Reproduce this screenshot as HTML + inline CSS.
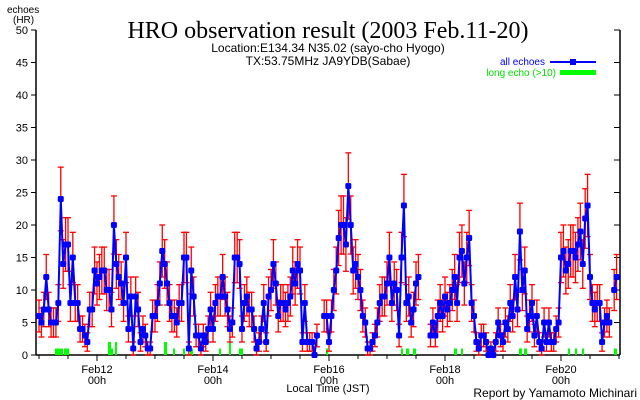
<!DOCTYPE html>
<html><head><meta charset="utf-8"><style>
body{margin:0;background:#fff;}
svg{display:block;font-family:"Liberation Sans",sans-serif;}
</style></head><body>
<svg id="s" width="640" height="400" xmlns="http://www.w3.org/2000/svg">
<rect width="640" height="400" fill="#fff"/>
<text x="328" y="38" font-family="Liberation Serif,serif" font-size="24" text-anchor="middle">HRO observation result (2003 Feb.11-20)</text>
<text x="328" y="52" font-size="12" text-anchor="middle">Location:E134.34 N35.02 (sayo-cho Hyogo)</text>
<text x="328" y="65" font-size="12" text-anchor="middle">TX:53.75MHz JA9YDB(Sabae)</text>
<text x="7" y="13" font-size="10">echoes</text>
<text x="13" y="23" font-size="10">(HR)</text>
<text x="545" y="65" font-size="10" fill="#00f" text-anchor="end">all echoes</text>
<line x1="550" y1="62" x2="596" y2="62" stroke="#00f" stroke-width="2"/>
<rect x="570" y="59" width="6" height="6" fill="#00f"/>
<text x="556" y="76" font-size="10" fill="#0d0" text-anchor="end">long echo (&gt;10)</text>
<rect x="560" y="70" width="36" height="5" fill="#0f0"/>
<g id="g"></g>
<text x="328" y="392" font-size="11" text-anchor="middle">Local Time (JST)</text>
<text x="637" y="397" font-size="12" text-anchor="end">Report by Yamamoto Michinari</text>
</svg>
<script>
var NS="http://www.w3.org/2000/svg",g=document.getElementById("g"),h="";
function Y(v){return 355-v*6.5;}
function X(i){return 39+i*580/240;}
h+='<line x1="36" y1="30" x2="36" y2="355" stroke="#000" stroke-width="1.5"/>';
h+='<line x1="620" y1="30" x2="620" y2="355" stroke="#000" stroke-width="1.5"/>';
h+='<line x1="36" y1="355" x2="620" y2="355" stroke="#000" stroke-width="1.5"/>';
for(var v=0;v<=50;v+=5){var y=Y(v);h+='<line x1="31" y1="'+y+'" x2="36" y2="'+y+'" stroke="#000"/><line x1="614" y1="'+y+'" x2="620" y2="'+y+'" stroke="#000"/>';
h+='<text x="28" y="'+(y+4)+'" font-size="11" text-anchor="end">'+v+'</text>';}
for(var d=0;d<=20;d++){var x=39+d*29;var big=d%2==0;h+='<line x1="'+x+'" y1="355" x2="'+x+'" y2="'+(big&&d%4==2?361:359)+'" stroke="#000"/>';}
var labs=["Feb12","Feb14","Feb16","Feb18","Feb20"];
for(var k=0;k<5;k++){var x=97+k*116;h+='<text x="'+x+'" y="373" font-size="11" text-anchor="middle">'+labs[k]+'</text><text x="'+x+'" y="384" font-size="11" text-anchor="middle">00h</text>';}
var L=[[55,63,1],[64,69,1],[108,111,2],[111,113,1],[115,117,2],[164,167,2],[173,175,1],[183,185,1],[190,193,1],[219,221,1],[229,231,2],[239,243,1],[326,328,1],[401,403,1],[406,409,1],[413,416,1],[454,457,1],[461,463,1],[519,522,1],[524,527,1],[568,570,1],[575,577,1],[582,584,1],[614,617,1]];
L.forEach(function(b){h+='<rect x="'+b[0]+'" y="'+Y(b[2])+'" width="'+(b[1]-b[0])+'" height="'+(b[2]*6.5)+'" fill="#0f0"/>';});
var n=null;
var D=[6,5,7,12,7,5,5,5,8,24,14,17,17,8,15,8,8,4,4,3,2,7,7,13,
11,12,13,13,10,10,7,20,14,12,11,8,15,4,9,1,9,7,2,4,3,1,1,6,
6,8,11,16,14,11,8,6,6,5,8,8,15,15,1,13,9,3,3,1,3,2,4,7,
4,8,9,9,12,9,7,4,5,15,15,14,4,8,9,7,7,4,1,2,4,8,2,9,
10,14,11,6,8,8,7,8,9,13,11,14,13,2,8,2,2,2,0,3,n,n,6,6,
2,6,10,13,18,20,20,17,26,20,13,14,12,10,6,5,1,1,2,3,5,8,9,9,
11,15,8,11,10,3,15,23,8,9,5,7,11,12,n,n,n,n,3,5,3,6,8,6,
9,7,8,10,12,8,15,16,11,15,18,8,6,2,1,3,3,2,0,1,0,2,5,3,
2,5,4,8,6,12,7,19,10,13,4,6,8,3,6,2,1,5,2,5,2,2,4,5,
15,16,13,14,16,16,15,17,19,14,21,23,12,8,7,8,8,2,5,6,5,n,10,12];
var eb="",pl="",mk="",pts=[];
D.forEach(function(v,i){var x=X(i);if(v===n){if(pts.length)pl+='<polyline points="'+pts.join(" ")+'" fill="none" stroke="#00f" stroke-width="2"/>';pts=[];return;}
var e=Math.sqrt(v),t=Y(v+e),b=Y(Math.max(0,v-e));
eb+='<line x1="'+x+'" y1="'+t+'" x2="'+x+'" y2="'+b+'"/><line x1="'+(x-3)+'" y1="'+t+'" x2="'+(x+3)+'" y2="'+t+'"/><line x1="'+(x-3)+'" y1="'+b+'" x2="'+(x+3)+'" y2="'+b+'"/>';
pts.push(x.toFixed(1)+","+Y(v));
mk+='<rect x="'+(x-3)+'" y="'+(Y(v)-3)+'" width="6" height="6" rx="1.5"/>';});
if(pts.length)pl+='<polyline points="'+pts.join(" ")+'" fill="none" stroke="#00f" stroke-width="2"/>';
h+='<g stroke="#f00" stroke-width="1.3">'+eb+'</g>'+pl+'<g fill="#00f">'+mk+'</g>';
g.innerHTML=h;
</script>
</body></html>
